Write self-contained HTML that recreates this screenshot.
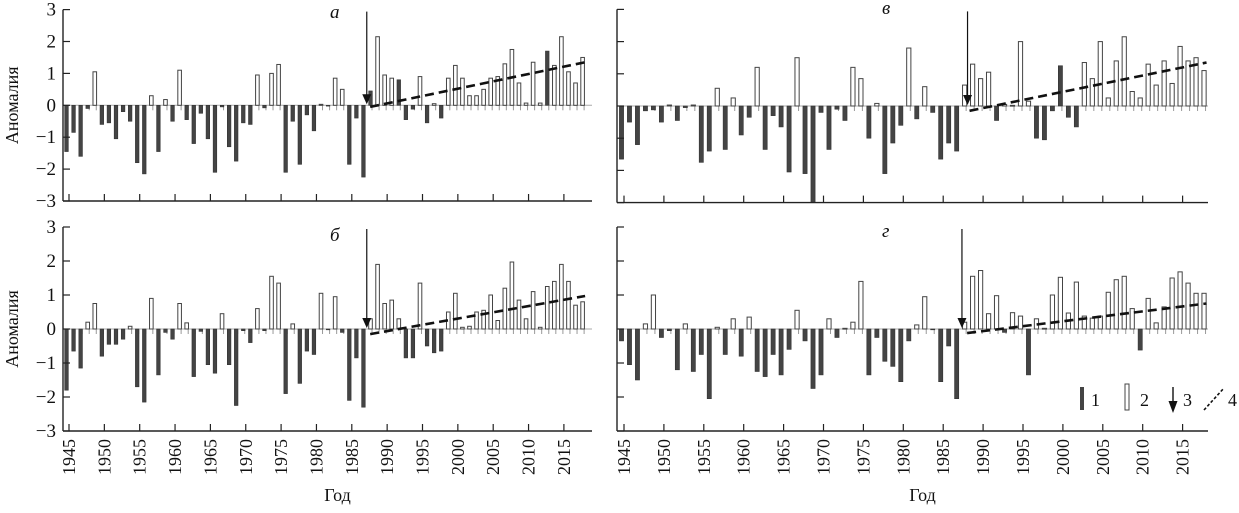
<!DOCTYPE html>
<html><head><meta charset="utf-8"><style>
body{margin:0;background:#fff}
svg{display:block;font-family:"Liberation Serif",serif}
svg text{font-family:"Liberation Serif",serif}
</style></head><body>
<svg id="c" width="1239" height="513" viewBox="0 0 1239 513"></svg>
<script>
const years = Array.from({length:74},(_,i)=>1945+i);
const seriesA = [-1.45,-0.85,-1.6,-0.1,1.05,-0.6,-0.55,-1.05,-0.2,-0.5,-1.8,-2.15,0.3,-1.45,0.18,-0.5,1.1,-0.45,-1.2,-0.25,-1.05,-2.1,-0.05,-1.3,-1.75,-0.55,-0.6,0.95,-0.08,1.0,1.28,-2.1,-0.5,-1.85,-0.3,-0.8,0.03,-0.02,0.85,0.5,-1.85,-0.4,-2.25,0.45,2.15,0.95,0.85,0.8,-0.45,-0.12,0.9,-0.55,0.05,-0.4,0.85,1.25,0.85,0.3,0.3,0.5,0.85,0.9,1.3,1.75,0.7,0.07,1.35,0.07,1.7,1.25,2.15,1.05,0.7,1.5];
const seriesB = [-1.8,-0.65,-1.15,0.2,0.75,-0.8,-0.45,-0.45,-0.3,0.08,-1.7,-2.15,0.9,-1.35,-0.1,-0.3,0.75,0.18,-1.4,-0.07,-1.05,-1.3,0.45,-1.05,-2.25,-0.05,-0.4,0.6,-0.05,1.55,1.35,-1.9,0.15,-1.6,-0.65,-0.75,1.05,-0.02,0.95,-0.1,-2.1,-0.85,-2.3,0.3,1.9,0.75,0.85,0.3,-0.85,-0.85,1.35,-0.5,-0.7,-0.65,0.5,1.05,0.05,0.08,0.5,0.55,1.0,0.25,1.2,1.97,0.85,0.3,1.1,0.05,1.25,1.4,1.9,1.4,0.7,0.8];
const seriesV = [-1.65,-0.5,-1.2,-0.15,-0.12,-0.5,0.03,-0.45,-0.05,0.03,-1.75,-1.4,0.55,-1.35,0.25,-0.9,-0.35,1.2,-1.35,-0.3,-0.65,-2.05,1.5,-2.1,-3.0,-0.2,-1.35,-0.1,-0.45,1.2,0.85,-1.0,0.08,-2.1,-1.15,-0.6,1.8,-0.4,0.6,-0.2,-1.65,-1.15,-1.4,0.65,1.3,0.85,1.05,-0.45,0.05,0.02,2.0,0.15,-1.0,-1.05,-0.15,1.25,-0.35,-0.65,1.35,0.85,2.0,0.25,1.4,2.15,0.45,0.25,1.3,0.65,1.4,0.7,1.85,1.4,1.5,1.1];
const seriesG = [-0.35,-1.05,-1.5,0.15,1.0,-0.25,-0.05,-1.2,0.15,-1.25,-0.75,-2.05,0.05,-0.75,0.3,-0.8,0.35,-1.25,-1.4,-0.75,-1.35,-0.6,0.55,-0.35,-1.75,-1.35,0.3,-0.25,0.02,0.2,1.4,-1.35,-0.25,-0.95,-1.1,-1.55,-0.35,0.12,0.95,-0.02,-1.55,-0.5,-2.05,0.2,1.55,1.72,0.45,0.98,-0.1,0.48,0.38,-1.35,0.3,0.02,1.0,1.52,0.47,1.38,0.38,0.32,0.38,1.08,1.45,1.55,0.6,-0.62,0.9,0.18,0.65,1.5,1.68,1.35,1.05,1.05];
const darkPosA = [1988,1992,2013];
const darkPosB = [];
const darkPosV = [2000];
const darkPosG = [];
const trendA = [[1987.6,-0.05],[2018,1.35]];
const trendB = [[1987.6,-0.15],[2018,0.97]];
const trendV = [[1988.3,-0.15],[2018,1.35]];
const trendG = [[1988,-0.12],[2018,0.75]];
const breakYear = [1987.4,1987.4,1988.3,1987.6];
const yTicks = [-3,-2,-1,0,1,2,3];
const xTicks = [1945,1950,1955,1960,1965,1970,1975,1980,1985,1990,1995,2000,2005,2010,2015];

const svg=document.getElementById('c');
const NS='http://www.w3.org/2000/svg';
const FF='Liberation Serif, serif';
function mk(tag,attrs,parent,text){const e=document.createElementNS(NS,tag);for(const k in attrs)e.setAttribute(k,attrs[k]);if(tag==='text')e.setAttribute('font-family',FF);if(text!==undefined)e.textContent=text;(parent||svg).appendChild(e);return e;}

const panels=[
 {key:'a',label:'а',data:seriesA,dark:darkPosA,trend:trendA,brk:breakYear[0],ax:63,x0:69,px:7.07,xEnd:592,y0:105.3,u:31.9,lx:330,ly:18,left:true,bottom:false},
 {key:'b',label:'б',data:seriesB,dark:darkPosB,trend:trendB,brk:breakYear[1],ax:63,x0:69,px:7.07,xEnd:592,y0:329,u:34,lx:330,ly:241,left:true,bottom:true},
 {key:'v',label:'в',data:seriesV,dark:darkPosV,trend:trendV,brk:breakYear[2],ax:617,x0:624,px:7.98,xEnd:1208,y0:106,u:32.2,lx:882,ly:14,left:false,bottom:false},
 {key:'g',label:'г',data:seriesG,dark:darkPosG,trend:trendG,brk:breakYear[3],ax:617,x0:624,px:7.98,xEnd:1208,y0:329,u:34,lx:882,ly:237,left:false,bottom:true}
];

panels.forEach(p=>{
  const g=mk('g',{});
  
  
  const X=yr=>p.x0+(yr-1945)*p.px;
  const Y=v=>p.y0-v*p.u;
  const bw=p.left?3.6:4.2;
  years.forEach(yr=>{mk('line',{x1:X(yr)-1,x2:X(yr)-1,y1:p.y0,y2:p.y0+5,stroke:'#999','stroke-width':1},g);});
  mk('line',{x1:p.ax,x2:p.xEnd,y1:p.y0,y2:p.y0,stroke:'#aaa','stroke-width':1},g);
  p.data.forEach((v,i)=>{
    const yr=years[i];
    const dark = v<0 || p.dark.includes(yr);
    const y1=Math.min(Y(v),p.y0), h=Math.max(Math.abs(Y(v)-p.y0),0.8);
    const r=mk('rect',{x:X(yr)-2.5-bw/2,y:y1,width:bw,height:h,fill:dark?'#444':'#fff',stroke:dark?'#333':'#444','stroke-width':dark?0.6:1},g);
    
    
  });
  const yTop=Y(3), yBot=Y(-3);
  const ya=mk('line',{x1:p.ax,x2:p.ax,y1:yTop,y2:yBot,stroke:'#222','stroke-width':1.4},g);
  
  
  const xa=mk('line',{x1:p.ax,x2:p.xEnd,y1:yBot,y2:yBot,stroke:'#222','stroke-width':1.4},g);
  
  
  yTicks.forEach(t=>{
    mk('line',{x1:p.ax,x2:p.ax+7,y1:Y(t),y2:Y(t),stroke:'#222','stroke-width':1.2},g);
    if(p.left){const tx=mk('text',{x:p.ax-7,y:Y(t)+6,'text-anchor':'end','font-size':19,fill:'#111'},g,t<0?'−'+(-t):String(t));
      
      }
  });
  xTicks.forEach(t=>{
    mk('line',{x1:X(t),x2:X(t),y1:yBot,y2:yBot-7,stroke:'#222','stroke-width':1.2},g);
    if(p.bottom){const tx=mk('text',{x:0,y:0,transform:`translate(${X(t)+6},${yBot+8}) rotate(-90)`,'text-anchor':'end','font-size':18,fill:'#111'},g,String(t));
      
      }
  });
  if(p.left){const t=mk('text',{x:0,y:0,transform:`translate(18,${p.y0}) rotate(-90)`,'text-anchor':'middle','font-size':18,fill:'#111'},g,'Аномалия');
    
    }
  if(p.bottom){const t=mk('text',{x:(p.ax+p.xEnd)/2+10,y:501,'text-anchor':'middle','font-size':18,fill:'#111'},g,'Год');
    
    }
  const pl=mk('text',{x:p.lx,y:p.ly,'font-size':19,'font-style':'italic',fill:'#111'},g,p.label);
  
  
  const tr=mk('line',{x1:X(p.trend[0][0]),y1:Y(p.trend[0][1]),x2:X(p.trend[1][0]),y2:Y(p.trend[1][1]),stroke:'#111','stroke-width':2.6,'stroke-dasharray':'9,5'},g);
  
  
  const ax=X(p.brk)-2;
  const ar=mk('g',{},g);
  
  
  mk('line',{x1:ax,x2:ax,y1:yTop+2,y2:p.y0-4,stroke:'#111','stroke-width':1.2},ar);
  mk('polygon',{points:`${ax-4.5},${p.y0-11} ${ax+4.5},${p.y0-11} ${ax},${p.y0-1}`,fill:'#111'},ar);
});

const lg=mk('g',{});


mk('rect',{x:1080,y:387,width:4,height:23,fill:'#444'},lg);
mk('text',{x:1091,y:406,'font-size':18,fill:'#111'},lg,'1');
mk('rect',{x:1125,y:384,width:4,height:26,fill:'#fff',stroke:'#444','stroke-width':1},lg);
mk('text',{x:1140,y:406,'font-size':18,fill:'#111'},lg,'2');
mk('line',{x1:1173,x2:1173,y1:387,y2:404,stroke:'#111','stroke-width':1.4},lg);
mk('polygon',{points:'1168.5,401 1177.5,401 1173,413',fill:'#111'},lg);
mk('text',{x:1183,y:406,'font-size':18,fill:'#111'},lg,'3');
mk('line',{x1:1204,y1:410,x2:1224,y2:388,stroke:'#111','stroke-width':1.6,'stroke-dasharray':'3,2'},lg);
mk('text',{x:1228,y:406,'font-size':18,fill:'#111'},lg,'4');
</script>
</body></html>
